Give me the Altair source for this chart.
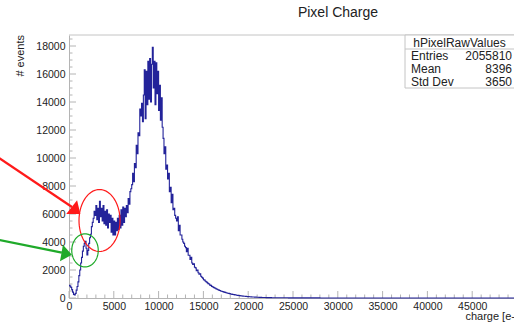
import altair as alt
import numpy as np
import pandas as pd

FONT = "Liberation Sans"

# ---- histogram data (bin left edges in e-, counts) ----
edges_fine = list(range(0, 23000, 100))
counts_fine = [
    900, 850, 760, 600, 420, 260, 210, 330, 560, 820,
    1150, 1600, 2000, 2500, 2900, 3350, 3700, 3900, 4050, 3550,
    3080, 3400, 3900, 4300, 4550, 5100, 5400, 5700, 6200, 5900,
    6600, 5600, 6400, 5400, 6900, 5800, 6400, 5500, 6600, 5300,
    6200, 5200, 6300, 5000, 6000, 5400, 5900, 4700, 5700, 4500,
    5500, 4500, 5400, 4800, 5700, 4900, 5900, 5000, 6300, 5200,
    6500, 5400, 6400, 5800, 6600, 6100, 7100, 6700, 7600, 7800,
    8100, 8900, 8300, 9600, 9300, 10900, 10300, 11800, 11600, 13500,
    13000, 13900, 12600, 14500, 16300, 12800, 16200, 13800, 16900, 14200,
    17100, 14000, 16700, 17900, 15000, 16900, 13800, 16800, 14600, 16200,
    13400, 15200, 12700, 14300, 12200, 11400, 10300, 10800, 9200, 9500,
    8500, 8900, 7600, 7900, 6800, 7400, 6300, 6400, 5900, 5700,
    5500, 5800, 4800, 5200, 4500, 4500, 4200, 4000, 3900, 3700,
    3600, 3300, 3550, 3050, 3050, 2750, 2900, 2500, 2400, 2450,
    2200, 2150, 1950, 2000, 1800, 1700, 1720, 1550, 1480, 1420,
    1300, 1280, 1200, 1150, 1100, 1030, 1000, 920, 900, 830,
    800, 760, 720, 700, 650, 620, 590, 560, 540, 500,
    480, 460, 440, 420, 400, 380, 360, 340, 330, 310,
    290, 280, 260, 250, 240, 220, 210, 200, 190, 180,
    170, 160, 150, 145, 135, 130, 120, 115, 110, 100,
    95, 90, 85, 80, 75, 72, 68, 64, 60, 57,
    54, 51, 48, 45, 42, 40, 38, 36, 34, 32,
    30, 29, 27, 26, 25, 24, 23, 22, 21, 20,
]
edges_coarse = list(range(23000, 50000, 500))
counts_coarse = [
    18, 15, 13, 11, 10, 9, 8, 7, 6, 6, 5, 5, 4, 4, 4, 3, 3, 3, 3, 2,
    2, 2, 2, 2, 2, 2, 2, 1, 1, 1, 1, 1, 1, 1, 1, 1, 1, 1, 1, 1,
    1, 1, 1, 1, 1, 1, 1, 1, 1, 1, 1, 1, 1, 1,
]

# axis tick labels
x_tick_labels = list(range(0, 50000, 5000))
y_tick_labels = list(range(0, 20000, 2000))
x_minor = [v for v in range(0, 50000, 1000) if v % 5000 != 0]
y_minor = [v for v in range(0, 18786, 500) if v % 2000 != 0]

# stats box
stats_name = "hPixelRawValues"
stats_labels = ["Entries", "Mean", "Std Dev"]
stats_values = ["2055810", "8396", "3650"]

W, H = 445, 263
XMAX, YMAX = 49665, 18786

edges = edges_fine + edges_coarse + [XMAX]
counts = counts_fine + counts_coarse + [counts_coarse[-1]]
hist = pd.DataFrame({"x": edges, "y": counts})

xs = alt.Scale(domain=[0, XMAX], nice=False, zero=False)
ys = alt.Scale(domain=[0, YMAX], nice=False, zero=False)
xaxis = alt.Axis(values=x_tick_labels, title=None, ticks=False, grid=False,
                 labelFontSize=10.5, labelPadding=3, labelFlush=False,
                 labelOverlap=False, format="d", domainColor="#b4b4b4",
                 labelColor="#222222", labelFont=FONT)
yaxis = alt.Axis(values=y_tick_labels, title=None, ticks=False, grid=False,
                 labelFontSize=10.5, labelPadding=4, labelFlush=False,
                 labelOverlap=False, format="d", domainColor="#b4b4b4",
                 labelColor="#222222", labelFont=FONT)


def X(f="x"):
    return alt.X(f"{f}:Q", scale=xs, axis=xaxis)


def Y(f="y"):
    return alt.Y(f"{f}:Q", scale=ys, axis=yaxis)


BLUE = "#23239a"
hist_layer = alt.Chart(hist).mark_line(interpolate="step-after", color=BLUE,
                                       strokeWidth=1.1).encode(x=X(), y=Y())

# inward tick marks
xmaj = alt.Chart(pd.DataFrame({"x": x_tick_labels})).mark_rule(
    color="#b4b4b4", strokeWidth=1).encode(x=X(), y=alt.value(H), y2=alt.value(H - 7))
xmin = alt.Chart(pd.DataFrame({"x": x_minor})).mark_rule(
    color="#b4b4b4", strokeWidth=1).encode(x=X(), y=alt.value(H), y2=alt.value(H - 3.5))
ymaj = alt.Chart(pd.DataFrame({"y": y_tick_labels})).mark_rule(
    color="#b4b4b4", strokeWidth=1).encode(y=Y(), x=alt.value(0), x2=alt.value(7))
ymin = alt.Chart(pd.DataFrame({"y": y_minor})).mark_rule(
    color="#b4b4b4", strokeWidth=1).encode(y=Y(), x=alt.value(0), x2=alt.value(3.5))
top_frame = alt.Chart(pd.DataFrame({"a": [0]})).mark_rule(
    color="#c4c4c4", strokeWidth=1).encode(x=alt.value(0), x2=alt.value(W), y=alt.value(0))

# stats box
box = alt.Chart(pd.DataFrame({"a": [0]})).mark_rect(
    fill="white", stroke="#c4c4c4", strokeWidth=1).encode(
    x=alt.value(336), x2=alt.value(W + 2), y=alt.value(0), y2=alt.value(53))
sep = alt.Chart(pd.DataFrame({"a": [0]})).mark_rule(
    color="#c4c4c4", strokeWidth=1).encode(x=alt.value(336), x2=alt.value(W), y=alt.value(14))
st_head = alt.Chart(pd.DataFrame({"t": [stats_name]})).mark_text(
    font=FONT, fontSize=12, color="#222222", align="center", baseline="middle").encode(
    text="t:N", x=alt.value(390.5), y=alt.value(7.5))
st_rows = []
for i, (lab, val) in enumerate(zip(stats_labels, stats_values)):
    yy = 20.5 + 13.3 * i
    st_rows.append(alt.Chart(pd.DataFrame({"t": [lab]})).mark_text(
        font=FONT, fontSize=12, color="#222222", align="left", baseline="middle").encode(
        text="t:N", x=alt.value(342), y=alt.value(yy)))
    st_rows.append(alt.Chart(pd.DataFrame({"t": [val]})).mark_text(
        font=FONT, fontSize=12, color="#222222", align="right", baseline="middle").encode(
        text="t:N", x=alt.value(443), y=alt.value(yy)))

# titles
title = alt.Chart(pd.DataFrame({"t": ["Pixel Charge"]})).mark_text(
    font=FONT, fontSize=14, color="#222222", align="center", baseline="middle").encode(
    text="t:N", x=alt.value(269), y=alt.value(-22.5))
xtitle = alt.Chart(pd.DataFrame({"t": ["charge [e-]"]})).mark_text(
    font=FONT, fontSize=11, color="#222222", align="right", baseline="middle").encode(
    text="t:N", x=alt.value(449), y=alt.value(282))
ytitle = alt.Chart(pd.DataFrame({"t": ["# events"]})).mark_text(
    font=FONT, fontSize=11, color="#222222", align="right", baseline="middle",
    angle=270).encode(text="t:N", x=alt.value(-48), y=alt.value(0))

# annotation ellipses (centre / radii in data units)
def ellipse(cx, cy, rx, ry):
    t = np.linspace(0, 2 * np.pi, 73)
    return pd.DataFrame({"x": cx + rx * np.cos(t), "y": cy + ry * np.sin(t),
                         "o": np.arange(73)})

RED = "#ff1a1a"
GREEN = "#1faa2a"
red_ell = alt.Chart(ellipse(3404, 5536, 2288, 2214)).mark_line(
    color=RED, strokeWidth=1.2).encode(x=X(), y=Y(), order="o:Q")
green_ell = alt.Chart(ellipse(1786, 3400, 1480, 1180)).mark_line(
    color=GREEN, strokeWidth=1.2).encode(x=X(), y=Y(), order="o:Q")

red_arrow = alt.Chart(pd.DataFrame({"x": [-7800, 335], "y": [10000, 6500]})).mark_line(
    color=RED, strokeWidth=2.2).encode(x=X(), y=Y())
green_arrow = alt.Chart(pd.DataFrame({"x": [-7800, -800], "y": [4140, 3240]})).mark_line(
    color=GREEN, strokeWidth=2.2).encode(x=X(), y=Y())
HEAD = "M 1 0 L -1 -1.6 L -1 1.6 Z"
red_head = alt.Chart(pd.DataFrame({"x": [781], "y": [6250]})).mark_point(
    shape=HEAD, filled=True, color=RED, opacity=1, size=121, angle=38,
    strokeWidth=0).encode(x=X(), y=Y())
green_head = alt.Chart(pd.DataFrame({"x": [-260], "y": [3150]})).mark_point(
    shape=HEAD, filled=True, color=GREEN, opacity=1, size=112, angle=10,
    strokeWidth=0).encode(x=X(), y=Y())

chart = alt.layer(
    top_frame, xmin, xmaj, ymin, ymaj, hist_layer,
    box, sep, st_head, *st_rows,
    title, xtitle, ytitle,
    red_ell, green_ell, red_arrow, green_arrow, red_head, green_head,
).properties(
    width=W, height=H,
    autosize=alt.AutoSizeParams(type="none"),
    padding={"left": 69, "top": 35, "right": 0, "bottom": 28},
    background="white",
).configure_view(stroke=None)

chart.save("out.html", embed_options={"renderer": "svg", "actions": False})
